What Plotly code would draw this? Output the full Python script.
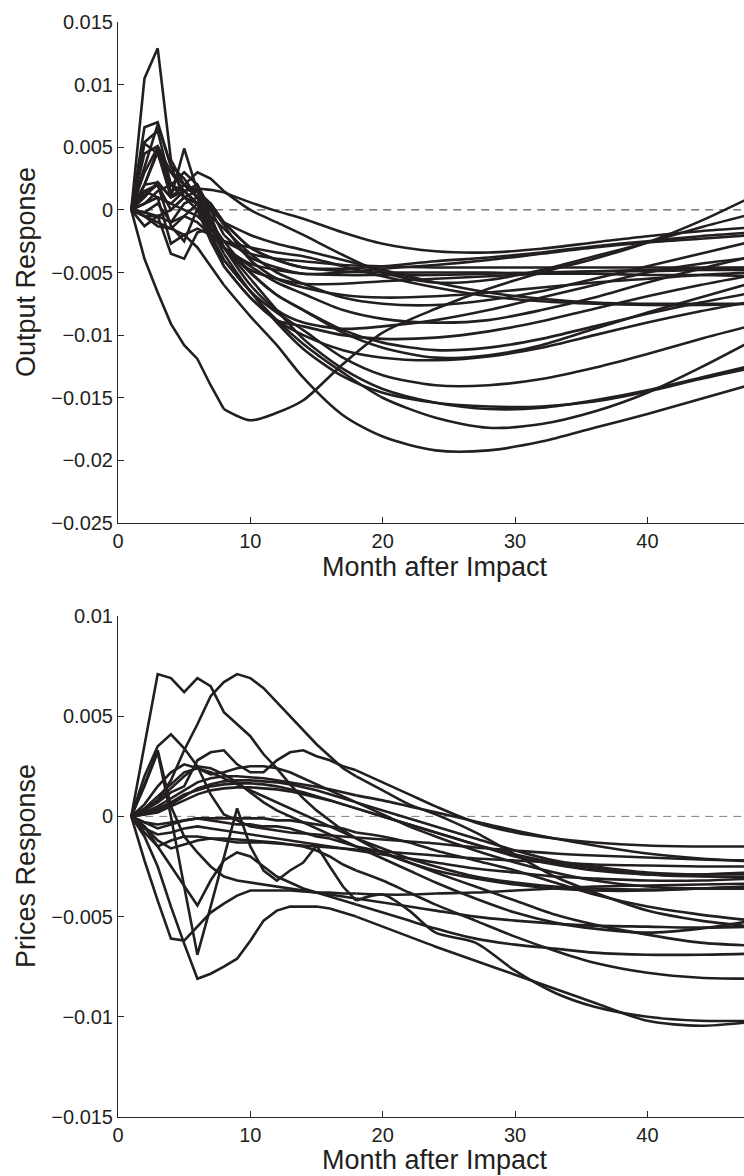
import plotly.graph_objects as go

# ---------------- data ----------------
top_months = [1, 2, 3, 4, 5, 6, 7, 8, 10, 12, 14, 17, 20, 24, 28, 32, 36, 40, 44, 48]
bottom_months = [1, 2, 3, 4, 5, 6, 7, 8, 9, 10, 11, 12, 13, 14, 15, 16, 17, 18,
                 20, 22, 24, 27, 30, 33, 36, 40, 44, 48]

output_responses = [
    [0, -0.0039, -0.0066, -0.0091, -0.0108, -0.0119, -0.0140, -0.0159, -0.0168, -0.0162, -0.0152, -0.0123, -0.0098, -0.0079, -0.0063, -0.0050, -0.0039, -0.0026, -0.0009, 0.0011],
    [0, 0.0105, 0.0129, 0.0040, 0.0020, 0.0015, -0.0010, -0.0030, -0.0050, -0.0068, -0.0080, -0.0096, -0.0106, -0.0112, -0.0110, -0.0103, -0.0093, -0.0083, -0.0074, -0.0066],
    [0, -0.0005, -0.0010, -0.0015, -0.0020, -0.0030, -0.0045, -0.0060, -0.0085, -0.0108, -0.0134, -0.0164, -0.0181, -0.0192, -0.0192, -0.0185, -0.0174, -0.0163, -0.0151, -0.0139],
    [0, 0.0030, 0.0050, 0.0020, 0.0010, 0.0005, -0.0015, -0.0035, -0.0065, -0.0088, -0.0107, -0.0130, -0.0150, -0.0166, -0.0174, -0.0171, -0.0161, -0.0146, -0.0126, -0.0104],
    [0, 0.0053, 0.0045, 0.0015, 0.0020, 0.0010, -0.0015, -0.0030, -0.0055, -0.0080, -0.0103, -0.0127, -0.0143, -0.0154, -0.0159, -0.0158, -0.0152, -0.0144, -0.0134, -0.0124],
    [0, 0.0020, 0.0048, 0.0030, 0.0015, 0.0005, -0.0020, -0.0040, -0.0065, -0.0090, -0.0111, -0.0133, -0.0146, -0.0154, -0.0157, -0.0157, -0.0153, -0.0145, -0.0135, -0.0126],
    [0, 0.0066, 0.0070, 0.0035, 0.0025, 0.0010, -0.0020, -0.0040, -0.0065, -0.0082, -0.0096, -0.0118, -0.0132, -0.0140, -0.0140, -0.0135, -0.0126, -0.0115, -0.0103, -0.0092],
    [0, 0.0045, 0.0051, 0.0030, 0.0020, 0.0010, -0.0010, -0.0025, -0.0050, -0.0068, -0.0080, -0.0098, -0.0110, -0.0118, -0.0116, -0.0108, -0.0095, -0.0082, -0.0070, -0.0058],
    [0, 0.0010, 0.0022, 0.0010, 0.0015, 0.0005, -0.0020, -0.0045, -0.0070, -0.0088, -0.0093, -0.0100, -0.0103, -0.0102, -0.0097, -0.0089, -0.0079, -0.0069, -0.0060, -0.0052],
    [0, -0.0002, -0.0005, -0.0010, -0.0005, -0.0010, -0.0020, -0.0030, -0.0045, -0.0058, -0.0067, -0.0080, -0.0087, -0.0090, -0.0088, -0.0080, -0.0070, -0.0058, -0.0047, -0.0037],
    [0, 0.0015, 0.0020, 0.0000, 0.0010, 0.0005, -0.0005, -0.0015, -0.0035, -0.0050, -0.0059, -0.0070, -0.0075, -0.0076, -0.0072, -0.0065, -0.0055, -0.0045, -0.0035, -0.0025],
    [0, 0.0020, 0.0022, 0.0010, 0.0020, 0.0030, 0.0025, 0.0015, 0.0000, -0.0010, -0.0020, -0.0036, -0.0050, -0.0058, -0.0056, -0.0048, -0.0037, -0.0026, -0.0014, -0.0003],
    [0, 0.0005, 0.0010, 0.0005, 0.0015, 0.0017, 0.0016, 0.0014, 0.0006, -0.0001, -0.0007, -0.0018, -0.0027, -0.0033, -0.0034, -0.0031, -0.0026, -0.0021, -0.0017, -0.0014],
    [0, -0.0005, -0.0013, -0.0015, -0.0005, 0.0005, 0.0000, -0.0010, -0.0020, -0.0027, -0.0032, -0.0040, -0.0048, -0.0058, -0.0066, -0.0071, -0.0074, -0.0075, -0.0075, -0.0075],
    [0, -0.0013, -0.0005, -0.0035, -0.0039, -0.0018, -0.0015, -0.0025, -0.0030, -0.0034, -0.0037, -0.0045, -0.0053, -0.0062, -0.0069, -0.0073, -0.0075, -0.0076, -0.0076, -0.0075],
    [0, 0.0005, 0.0010, 0.0005, 0.0000, -0.0005, -0.0015, -0.0025, -0.0035, -0.0039, -0.0041, -0.0044, -0.0045, -0.0046, -0.0046, -0.0046, -0.0046, -0.0046, -0.0046, -0.0046],
    [0, -0.0002, 0.0005, -0.0010, 0.0005, 0.0010, 0.0005, -0.0010, -0.0030, -0.0040, -0.0046, -0.0049, -0.0050, -0.0050, -0.0050, -0.0051, -0.0051, -0.0052, -0.0052, -0.0053],
    [0, 0.0015, 0.0010, -0.0027, -0.0020, -0.0015, -0.0020, -0.0030, -0.0043, -0.0048, -0.0051, -0.0052, -0.0052, -0.0052, -0.0051, -0.0050, -0.0049, -0.0049, -0.0048, -0.0048],
    [0, -0.0005, -0.0005, 0.0000, 0.0010, 0.0015, 0.0005, -0.0010, -0.0030, -0.0040, -0.0046, -0.0047, -0.0045, -0.0041, -0.0038, -0.0034, -0.0029, -0.0025, -0.0021, -0.0018],
    [0, 0.0005, 0.0015, 0.0020, 0.0015, 0.0020, 0.0000, -0.0020, -0.0038, -0.0046, -0.0051, -0.0050, -0.0047, -0.0044, -0.0040, -0.0035, -0.0030, -0.0026, -0.0023, -0.0020],
    [0, 0.0020, 0.0046, 0.0010, 0.0049, 0.0015, -0.0010, -0.0030, -0.0048, -0.0055, -0.0059, -0.0059, -0.0057, -0.0055, -0.0053, -0.0051, -0.0049, -0.0048, -0.0047, -0.0046],
    [0, 0.0054, 0.0063, 0.0020, 0.0030, 0.0020, -0.0005, -0.0030, -0.0060, -0.0080, -0.0090, -0.0095, -0.0093, -0.0088, -0.0080, -0.0070, -0.0060, -0.0050, -0.0043, -0.0038],
    [0, 0.0035, 0.0068, 0.0035, 0.0010, 0.0000, -0.0025, -0.0045, -0.0070, -0.0088, -0.0100, -0.0112, -0.0118, -0.0120, -0.0117, -0.0110, -0.0100, -0.0090, -0.0081, -0.0073],
    [0, 0.0012, 0.0020, -0.0013, -0.0025, 0.0001, 0.0003, -0.0012, -0.0040, -0.0055, -0.0062, -0.0068, -0.0070, -0.0069, -0.0066, -0.0062, -0.0058, -0.0055, -0.0052, -0.0050],
]

prices_responses = [
    [0, 0.0035, 0.0071, 0.0069, 0.0062, 0.0069, 0.0065, 0.0052, 0.0046, 0.0040, 0.0031, 0.0024, 0.0016, 0.0009, 0.0003, -0.0002, -0.0007, -0.0011, -0.0018, -0.0023, -0.0027, -0.0031, -0.0034, -0.0036, -0.0037, -0.0037, -0.0036, -0.0035],
    [0, 0.0003, 0.0008, 0.0018, 0.0033, 0.0046, 0.0060, 0.0067, 0.0071, 0.0069, 0.0064, 0.0057, 0.0050, 0.0043, 0.0036, 0.0030, 0.0024, 0.0020, 0.0013, 0.0006, 0.0001, -0.0008, -0.0019, -0.0030, -0.0038, -0.0047, -0.0052, -0.0055],
    [0, 0.0003, 0.0007, 0.0012, 0.0015, 0.0028, 0.0032, 0.0033, 0.0026, 0.0022, 0.0022, 0.0028, 0.0032, 0.0033, 0.0030, 0.0028, 0.0025, 0.0023, 0.0017, 0.0011, 0.0005, -0.0003, -0.0008, -0.0011, -0.0013, -0.00145, -0.0015, -0.0015],
    [0, 0.0020, 0.0035, 0.0041, 0.0034, 0.0025, 0.0011, 0.0001, -0.0002, -0.0005, -0.0006, -0.0007, -0.0008, -0.00085, -0.0009, -0.00095, -0.0010, -0.00105, -0.00115, -0.00125, -0.00135, -0.00155, -0.0017, -0.00185, -0.00195, -0.00205, -0.00215, -0.0022],
    [0, -0.0010, -0.0025, -0.0045, -0.00635, -0.0081, -0.00785, -0.0075, -0.0071, -0.0062, -0.0052, -0.0047, -0.0045, -0.0045, -0.0045, -0.0046, -0.0048, -0.0050, -0.0055, -0.0060, -0.0065, -0.0072, -0.0079, -0.0086, -0.0093, -0.0102, -0.01045, -0.01025],
    [0, 0.0015, 0.0032, 0.0000, -0.0035, -0.0069, -0.0045, -0.0020, 0.0004, -0.0015, -0.0027, -0.0032, -0.0027, -0.0023, -0.00145, -0.0025, -0.0035, -0.0042, -0.0039, -0.0047, -0.0058, -0.0063, -0.0077, -0.0088, -0.0095, -0.0100, -0.0102, -0.0102],
    [0, -0.0022, -0.0042, -0.0061, -0.0062, -0.0055, -0.0048, -0.00435, -0.00395, -0.0037, -0.0037, -0.0037, -0.0037, -0.00375, -0.0038, -0.0038, -0.00385, -0.00385, -0.0039, -0.0039, -0.00385, -0.0038, -0.0037, -0.0036, -0.0035, -0.00345, -0.0034, -0.00335],
    [0, -0.0005, -0.0015, -0.0025, -0.0035, -0.00445, -0.0032, -0.0022, -0.0018, -0.0020, -0.0025, -0.0030, -0.0033, -0.0036, -0.0038, -0.0040, -0.0042, -0.0044, -0.0048, -0.0052, -0.0056, -0.0061, -0.0064, -0.0066, -0.0068, -0.0069, -0.0069, -0.00685],
    [0, 0.0003, 0.0008, 0.0014, 0.0020, 0.0025, 0.0024, 0.0021, 0.0017, 0.0012, 0.0007, 0.0003, 0.0000, -0.0003, -0.0006, -0.0009, -0.0012, -0.0015, -0.0021, -0.0027, -0.0033, -0.0041, -0.0048, -0.0053, -0.0056, -0.0058, -0.0056, -0.0052],
    [0, 0.0002, 0.0005, 0.0009, 0.0013, 0.0017, 0.0019, 0.0020, 0.0020, 0.00195, 0.0019, 0.0018, 0.0017, 0.0016, 0.00148, 0.00135, 0.0012, 0.00105, 0.0008, 0.0005, 0.0002, -0.00025, -0.0007, -0.0011, -0.00145, -0.00185, -0.0021, -0.00225],
    [0, 0.0001, 0.0003, 0.0006, 0.0010, 0.0014, 0.0016, 0.00175, 0.0018, 0.0018, 0.00175, 0.0017, 0.0016, 0.00145, 0.0013, 0.0011, 0.0009, 0.0007, 0.0003, -0.0001, -0.0005, -0.0011, -0.0017, -0.0022, -0.0025, -0.0028, -0.0029, -0.00285],
    [0, 0.0002, 0.0004, 0.0007, 0.0011, 0.0013, 0.0015, 0.0016, 0.00165, 0.00165, 0.0016, 0.0015, 0.00135, 0.0012, 0.0010, 0.0008, 0.0006, 0.0004, 0.0000, -0.0004, -0.0008, -0.0014, -0.0020, -0.0024, -0.0027, -0.0029, -0.0029, -0.0028],
    [0, 0.0001, 0.0002, 0.0005, 0.0008, 0.0011, 0.0013, 0.0014, 0.00145, 0.00145, 0.0014, 0.00135, 0.00125, 0.0011, 0.00095, 0.0008, 0.0006, 0.0004, 0.0000, -0.0004, -0.0008, -0.0014, -0.0019, -0.0023, -0.0026, -0.0029, -0.0030, -0.0030],
    [0, -0.0003, -0.0004, -0.0003, -0.0002, -0.0001, -0.0001, -0.0001, -0.0001, -0.0001, -0.0001, -0.0002, -0.0002, -0.0003, -0.0004, -0.0005, -0.0006, -0.0008, -0.0010, -0.0013, -0.0017, -0.0022, -0.0027, -0.0033, -0.0039, -0.0045, -0.0049, -0.0052],
    [0, -0.0003, -0.0006, -0.0004, -0.0002, -0.0001, -0.0002, -0.0003, -0.0004, -0.0004, -0.0005, -0.0005, -0.0006, -0.0008, -0.0010, -0.0011, -0.0013, -0.0015, -0.0018, -0.0023, -0.0028, -0.0035, -0.0042, -0.0049, -0.0054, -0.0059, -0.0063, -0.00645],
    [0, -0.0005, -0.0012, -0.0016, -0.0014, -0.0012, -0.0011, -0.0011, -0.00115, -0.0012, -0.00125, -0.0013, -0.0014, -0.0015, -0.0017, -0.0020, -0.0024, -0.0027, -0.0032, -0.0038, -0.0044, -0.0052, -0.0060, -0.0067, -0.0073, -0.0078, -0.00805, -0.0081],
    [0, -0.0008, -0.0015, -0.0012, -0.0010, -0.0010, -0.0011, -0.0012, -0.0013, -0.0013, -0.0013, -0.00135, -0.0014, -0.00145, -0.0015, -0.00155, -0.0016, -0.00165, -0.00175, -0.00185, -0.00195, -0.0021, -0.0022, -0.0023, -0.0024, -0.00245, -0.0025, -0.0025],
    [0, 0.0016, 0.0033, 0.0005, -0.0010, -0.0018, -0.0025, -0.0030, -0.0032, -0.0033, -0.0034, -0.0035, -0.0036, -0.0037, -0.0038, -0.0039, -0.0040, -0.0041, -0.0043, -0.0045, -0.0047, -0.0050, -0.0052, -0.00535, -0.00545, -0.0055, -0.00555, -0.0055],
    [0, 0.0004, 0.0010, 0.0016, 0.0022, 0.0024, 0.0022, 0.0019, 0.0016, 0.0013, 0.0010, 0.0007, 0.0004, 0.0001, -0.0002, -0.0005, -0.0008, -0.0011, -0.0016, -0.0021, -0.0025, -0.0030, -0.0033, -0.0035, -0.0036, -0.00365, -0.0036, -0.0035],
    [0, 0.0006, 0.0015, 0.0022, 0.0026, 0.0024, 0.0021, 0.0022, 0.0024, 0.0025, 0.0025, 0.0024, 0.0022, 0.0019, 0.0016, 0.0013, 0.0010, 0.0007, 0.0001, -0.0005, -0.0010, -0.0017, -0.0023, -0.0028, -0.0032, -0.0035, -0.0036, -0.0036],
    [0, -0.0006, -0.0009, -0.0008, -0.0006, -0.0005, -0.0006, -0.0007, -0.0008, -0.0009, -0.0010, -0.0011, -0.0012, -0.0013, -0.0014, -0.0015, -0.0016, -0.0017, -0.0019, -0.0021, -0.0023, -0.0026, -0.0028, -0.0030, -0.0031, -0.0032, -0.0032, -0.0031],
]

x_ticks = [0, 10, 20, 30, 40]
x_ticktext = ["0", "10", "20", "30", "40"]
top_yticks = [-0.025, -0.02, -0.015, -0.01, -0.005, 0, 0.005, 0.01, 0.015]
top_yticktext = ["\u22120.025", "\u22120.02", "\u22120.015", "\u22120.01", "\u22120.005", "0", "0.005", "0.01", "0.015"]
bottom_yticks = [-0.015, -0.01, -0.005, 0, 0.005, 0.01]
bottom_yticktext = ["\u22120.015", "\u22120.01", "\u22120.005", "0", "0.005", "0.01"]
zero_x = [1, 48]
zero_y = [0, 0]

x_title = "Month after Impact"
top_ytitle = "Output Response"
bottom_ytitle = "Prices Response"

# ---------------- styling / geometry ----------------
W, H = 744, 1176
ML, MR, MT, MB = 118, 0, 22, 59
LINE_COLOR = "#231f20"
AXIS_COLOR = "#262626"
FONT = "Liberation Sans, Arial, Helvetica, sans-serif"
plot_h = H - MT - MB
plot_w = W - ML - MR


def py_to_paper(py):
    return (H - MB - py) / plot_h


def px_to_paper(px):
    return (px - ML) / plot_w


top_dom = [py_to_paper(523), 1.0]
bot_dom = [0.0, py_to_paper(616)]

fig = go.Figure()


def add_curves(months, curves, xa, ya, split_month):
    k = months.index(split_month)
    for vals in curves:
        # jagged early part drawn point to point, smooth tail as spline
        fig.add_trace(go.Scatter(x=months[:k + 1], y=vals[:k + 1], mode="lines",
                                 line=dict(color=LINE_COLOR, width=2.6),
                                 xaxis=xa, yaxis=ya, showlegend=False, hoverinfo="skip"))
        fig.add_trace(go.Scatter(x=months[k:], y=vals[k:], mode="lines",
                                 line=dict(color=LINE_COLOR, width=2.6, shape="spline", smoothing=0.8),
                                 xaxis=xa, yaxis=ya, showlegend=False, hoverinfo="skip"))


fig.add_trace(go.Scatter(x=zero_x, y=zero_y, mode="lines",
                         line=dict(color="#333333", width=1, dash="8px,6px"),
                         xaxis="x", yaxis="y", showlegend=False, hoverinfo="skip"))
fig.add_trace(go.Scatter(x=zero_x, y=zero_y, mode="lines",
                         line=dict(color="#7f7f7f", width=1, dash="8px,6px"),
                         xaxis="x2", yaxis="y2", showlegend=False, hoverinfo="skip"))

add_curves(top_months, output_responses, "x", "y", 8)
add_curves(bottom_months, prices_responses, "x2", "y2", 18)

tick_font = dict(family=FONT, size=20, color=LINE_COLOR)
common_x = dict(range=[0, 47.3], tickmode="array", tickvals=x_ticks, ticktext=x_ticktext,
                ticks="inside", ticklen=6, tickcolor=AXIS_COLOR, tickwidth=1,
                showline=True, linecolor=AXIS_COLOR, linewidth=1, mirror=False,
                showgrid=False, zeroline=False, tickfont=tick_font, domain=[0, 1],
                ticklabelstandoff=0)
common_y = dict(tickmode="array", ticks="inside", ticklen=6, tickcolor=AXIS_COLOR, tickwidth=1,
                showline=True, linecolor=AXIS_COLOR, linewidth=1, mirror=False,
                showgrid=False, zeroline=False, tickfont=tick_font, ticklabelstandoff=0)

fig.update_layout(
    width=W, height=H,
    margin=dict(l=ML, r=MR, t=MT, b=MB),
    paper_bgcolor="white", plot_bgcolor="white",
    showlegend=False,
    xaxis=dict(anchor="y", **common_x),
    yaxis=dict(anchor="x", domain=top_dom, range=[-0.025, 0.015],
               tickvals=top_yticks, ticktext=top_yticktext, **common_y),
    xaxis2=dict(anchor="y2", **common_x),
    yaxis2=dict(anchor="x2", domain=bot_dom, range=[-0.015, 0.01],
                tickvals=bottom_yticks, ticktext=bottom_yticktext, **common_y),
)

title_font = dict(family=FONT, size=27, color=LINE_COLOR)
annotations = [
    dict(text=x_title, xref="paper", yref="paper", x=px_to_paper(435), y=py_to_paper(567),
         xanchor="center", yanchor="middle", showarrow=False, font=title_font),
    dict(text=x_title, xref="paper", yref="paper", x=px_to_paper(435), y=py_to_paper(1160),
         xanchor="center", yanchor="middle", showarrow=False, font=title_font),
    dict(text=top_ytitle, xref="paper", yref="paper", x=px_to_paper(26), y=py_to_paper(272),
         xanchor="center", yanchor="middle", textangle=-90, showarrow=False, font=title_font),
    dict(text=bottom_ytitle, xref="paper", yref="paper", x=px_to_paper(26), y=py_to_paper(866),
         xanchor="center", yanchor="middle", textangle=-90, showarrow=False, font=title_font),
]
fig.update_layout(annotations=annotations)

fig.write_html(
    "out.html",
    config={"displayModeBar": False, "staticPlot": True},
    post_script="document.body.style.margin='0';document.body.style.overflow='hidden';",
)
